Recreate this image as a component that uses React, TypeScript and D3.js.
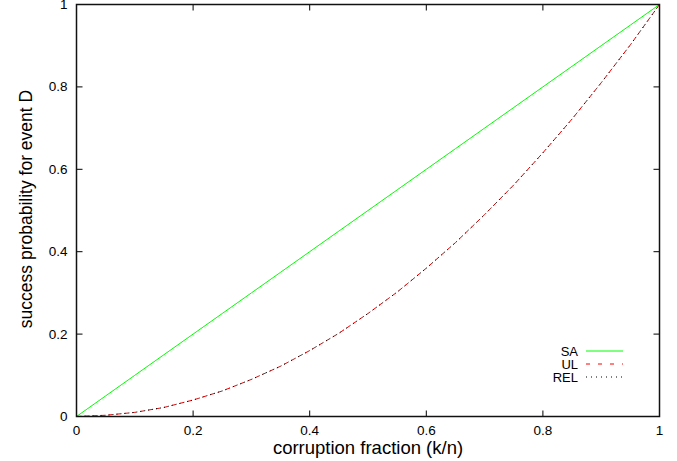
import * as d3 from "d3";
import { useRef, useEffect } from "react";

// corruption fraction samples
const xs = [0, 0.05, 0.1, 0.15, 0.2, 0.25, 0.3, 0.35, 0.4, 0.45, 0.5, 0.55, 0.6, 0.65, 0.7, 0.75, 0.8, 0.85, 0.9, 0.95, 1];
// SA: straight diagonal
const saValues = [0, 0.05, 0.1, 0.15, 0.2, 0.25, 0.3, 0.35, 0.4, 0.45, 0.5, 0.55, 0.6, 0.65, 0.7, 0.75, 0.8, 0.85, 0.9, 0.95, 1];
// UL and REL overlap almost exactly
const ulValues = [0, 0.003, 0.01, 0.022, 0.04, 0.062, 0.09, 0.122, 0.16, 0.202, 0.25, 0.302, 0.36, 0.422, 0.49, 0.562, 0.64, 0.722, 0.81, 0.902, 1];
const relValues = [0, 0.003, 0.01, 0.022, 0.04, 0.062, 0.09, 0.122, 0.16, 0.202, 0.25, 0.302, 0.36, 0.422, 0.49, 0.562, 0.64, 0.722, 0.81, 0.902, 1];
const xTicks = [0, 0.2, 0.4, 0.6, 0.8, 1];
const yTicks = [0, 0.2, 0.4, 0.6, 0.8, 1];

const W = 677;
const H = 461;
const margin = { left: 76.5, right: 17.5, top: 4.5, bottom: 44.5 };
const font = "Liberation Sans, Arial, Helvetica, sans-serif";

const Chart = () => {
  const ref = useRef<SVGSVGElement>(null);

  useEffect(() => {
    const svg = d3.select(ref.current);
    svg.selectAll("*").remove();

    const x = d3.scaleLinear().domain([0, 1]).range([margin.left, W - margin.right]);
    const y = d3.scaleLinear().domain([0, 1]).range([H - margin.bottom, margin.top]);

    const tick = 6;

    // ticks (inward, mirrored)
    const g = svg.append("g").attr("stroke", "#000").attr("stroke-width", 1);
    yTicks.forEach((t) => {
      g.append("line").attr("x1", x(0)).attr("x2", x(0) + tick).attr("y1", y(t)).attr("y2", y(t));
      g.append("line").attr("x1", x(1)).attr("x2", x(1) - tick).attr("y1", y(t)).attr("y2", y(t));
    });
    xTicks.forEach((t) => {
      g.append("line").attr("x1", x(t)).attr("x2", x(t)).attr("y1", y(0)).attr("y2", y(0) - tick);
      g.append("line").attr("x1", x(t)).attr("x2", x(t)).attr("y1", y(1)).attr("y2", y(1) + tick);
    });

    // tick labels
    svg.append("g").selectAll("text").data(yTicks).join("text")
      .attr("x", x(0) - 9)
      .attr("y", (d) => y(d) + 4.5)
      .attr("text-anchor", "end")
      .attr("font-family", font)
      .attr("font-size", 13.5)
      .text((d) => String(d));

    svg.append("g").selectAll("text").data(xTicks).join("text")
      .attr("x", (d) => x(d))
      .attr("y", y(0) + 18)
      .attr("text-anchor", "middle")
      .attr("font-family", font)
      .attr("font-size", 13.5)
      .text((d) => String(d));

    // axis titles
    svg.append("text")
      .attr("x", (x(0) + x(1)) / 2)
      .attr("y", 454)
      .attr("text-anchor", "middle")
      .attr("font-family", font)
      .attr("font-size", 18.5)
      .text("corruption fraction (k/n)");

    svg.append("text")
      .attr("transform", `translate(32, 209) rotate(-90)`)
      .attr("text-anchor", "middle")
      .attr("font-family", font)
      .attr("font-size", 17.5)
      .text("success probability for event D");

    // series
    const line = (vals: number[]) =>
      d3.line<number>().x((_, i) => x(xs[i])).y((d) => y(d))(vals);

    svg.append("path").attr("d", line(saValues)).attr("fill", "none")
      .attr("stroke", "#00ff00").attr("stroke-width", 1);
    svg.append("path").attr("d", line(ulValues)).attr("fill", "none")
      .attr("stroke", "#ff0000").attr("stroke-width", 1).attr("stroke-dasharray", "4,4");
    svg.append("path").attr("d", line(relValues)).attr("fill", "none")
      .attr("stroke", "#000").attr("stroke-width", 1).attr("stroke-dasharray", "1,3");

    // legend
    const legend = [
      { name: "SA", color: "#00ff00", dash: null },
      { name: "UL", color: "#ff0000", dash: "4,8" },
      { name: "REL", color: "#000", dash: "1,4" },
    ];
    legend.forEach((l, i) => {
      const ly = 351 + i * 13;
      svg.append("text")
        .attr("x", 578)
        .attr("y", ly + 5)
        .attr("text-anchor", "end")
        .attr("font-family", font)
        .attr("font-size", 13)
        .text(l.name);
      svg.append("line")
        .attr("x1", 586).attr("x2", 623).attr("y1", ly).attr("y2", ly)
        .attr("stroke", l.color).attr("stroke-width", 1)
        .attr("stroke-dasharray", l.dash);
    });

    // frame
    svg.append("rect")
      .attr("x", x(0)).attr("y", y(1))
      .attr("width", x(1) - x(0)).attr("height", y(0) - y(1))
      .attr("fill", "none").attr("stroke", "#111").attr("stroke-width", 1.5);
  }, []);

  return (
    <svg
      ref={ref}
      width={W}
      height={H}
      style={{ position: "absolute", left: 0, top: 0, display: "block", background: "#fff" }}
    />
  );
};

export default function App() {
  return <Chart />;
}
